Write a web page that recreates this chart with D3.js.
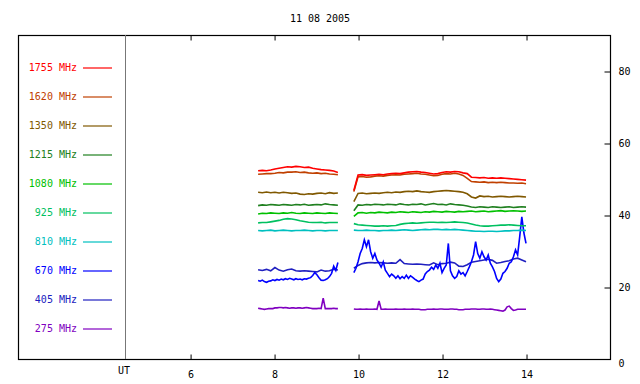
<!DOCTYPE html>
<html>
<head>
<meta charset="utf-8">
<script src="https://cdn.jsdelivr.net/npm/d3@7"></script>
<style>
  body { margin: 0; background: #fff; }
  text { font-family: "DejaVu Sans Mono", "Liberation Mono", monospace; font-size: 10px; }
</style>
</head>
<body>
<div id="svgWrapper"></div>
<script>
const width = 640;
const height = 384;

// chart data
const title = "11 08 2005";
const freqs = ["1755", "1620", "1350", "1215", "1080", "925", "810", "670", "405", "275"];
const colors = ["#ff0000", "#c04000", "#805800", "#208020", "#00c000", "#00c060", "#00c0c0", "#0000ff", "#2020c0", "#8000c0"];
const hourTicks = [6, 8, 10, 12, 14];
const valueTicks = [0, 20, 40, 60, 80];

// sample grids (UT hours)
const seg1Start = 7.62, seg2Start = 9.90;
const coarseStep = 0.1, fineStep = 0.05;

const f1755_1 = [52.3,52.4,52.3,52.5,52.8,53.0,53.2,53.4,53.3,53.5,53.4,53.2,53.3,53.0,52.8,52.6,52.5,52.4,52.2,51.8];
const f1755_2 = [46.8,51.1,51.2,51.0,51.1,51.2,51.3,51.2,51.4,51.5,51.6,51.5,51.7,51.9,52.0,52.1,51.9,51.8,51.6,51.4,51.5,51.8,52.0,51.9,52.1,52.0,51.7,51.5,50.5,50.4,50.3,50.4,50.2,50.3,50.2,50.3,50.2,50.1,50.0,49.9,49.8,49.7];
const f1620_1 = [51.3,51.4,51.5,51.5,51.6,51.8,51.7,51.9,51.9,52.0,51.8,51.9,51.7,51.6,51.7,51.5,51.6,51.4,51.3,51.2];
const f1620_2 = [46.5,50.6,50.7,50.5,50.6,50.8,50.9,50.8,51.0,51.1,51.2,51.1,51.3,51.4,51.5,51.6,51.4,51.3,51.1,50.9,51.0,51.3,51.5,51.4,51.6,51.4,51.0,50.2,49.3,49.2,49.1,49.2,49.0,49.1,49.0,49.1,49.0,48.9,48.9,48.8,48.9,48.7];
const f1350_1 = [46.3,46.2,46.4,46.2,46.3,46.1,46.3,46.2,46.0,46.1,45.8,45.7,45.9,45.8,46.0,46.1,45.9,46.2,46.0,46.1];
const f1350_2 = [43.7,46.0,46.1,45.9,46.0,46.1,46.0,46.2,46.3,46.2,46.4,46.3,46.5,46.6,46.5,46.7,46.5,46.4,46.3,46.5,46.6,46.7,46.8,46.7,46.6,46.5,46.3,45.9,45.0,44.7,45.3,45.1,45.2,45.0,45.1,45.2,45.1,45.0,45.1,45.2,45.1,45.0];
const f1215_1 = [42.6,42.8,42.7,42.9,42.8,42.7,42.9,42.8,42.7,42.9,42.8,43.0,42.7,42.8,42.9,42.8,43.1,42.9,42.8,42.7];
const f1215_2 = [41.2,42.8,42.7,42.9,42.8,43.0,42.9,42.8,43.0,42.9,42.8,43.1,42.9,42.8,43.0,42.9,43.1,42.8,43.0,43.2,42.9,43.0,42.8,43.1,42.9,42.8,42.7,42.5,42.2,42.1,42.3,42.2,42.1,42.3,42.2,42.1,42.2,42.3,42.1,42.2,42.3,42.2];
const f1080_1 = [40.3,40.5,40.4,40.6,40.5,40.4,40.6,40.5,40.7,40.5,40.4,40.6,40.5,40.4,40.6,40.5,40.4,40.6,40.5,40.4];
const f1080_2 = [39.6,40.6,40.7,40.5,40.7,40.6,40.8,40.7,40.6,40.8,40.7,40.9,40.8,40.7,40.9,40.8,40.7,40.9,40.8,41.0,40.9,40.8,41.0,40.9,40.8,41.0,40.9,41.0,41.1,40.9,41.0,41.1,40.9,41.0,41.1,41.2,41.0,41.1,41.2,41.1,41.0,41.1];
const f925_1 = [37.8,37.9,37.9,38.1,38.3,38.5,38.8,39.0,38.9,38.7,38.4,38.2,38.0,37.9,37.9,38.0,37.8,37.9,37.9,37.9];
const f925_2 = [37.6,37.3,37.2,37.1,37.0,36.9,36.9,37.0,36.9,37.0,37.1,37.4,37.6,37.7,37.8,37.7,37.8,37.9,38.0,38.0,37.9,38.0,37.9,38.0,38.1,38.0,37.9,37.8,37.5,37.2,37.0,36.9,36.9,37.0,37.1,37.2,37.2,37.3,37.2,37.1,37.0,37.0];
const f810_1 = [35.7,35.6,35.7,35.8,35.6,35.7,35.8,35.7,35.6,35.7,35.7,35.8,35.7,35.6,35.7,35.7,35.6,35.7,35.7,35.7];
const f810_2 = [35.8,35.7,35.7,35.8,35.7,35.7,35.6,35.7,35.7,35.8,35.7,35.8,35.9,35.8,35.7,35.8,35.9,36.0,35.9,36.0,36.0,35.9,36.0,35.9,36.0,35.9,35.8,35.7,35.6,35.5,35.5,35.4,35.5,35.5,35.4,35.5,35.6,35.6,35.7,35.7,35.8,35.7];
// 670 and 275 MHz are on the fine grid
const f670_1 = [21.8,21.6,21.9,21.5,21.3,21.6,21.7,22.0,21.8,22.1,21.9,22.2,22.0,22.3,22.1,22.4,22.2,22.0,22.3,22.1,22.2,22.0,22.3,22.2,22.4,22.6,23.2,24.0,23.4,22.6,21.9,21.8,22.0,22.3,22.9,23.8,25.8,24.6,26.8];
const f670_2 = [24.0,25.2,27.0,29.3,30.7,33.1,31.2,33.1,29.8,28.0,29.3,27.5,26.6,25.5,27.0,24.7,23.8,22.9,23.6,23.1,22.4,23.1,22.3,22.9,22.4,23.3,22.4,23.1,22.7,22.2,21.8,21.5,21.9,22.2,23.6,24.3,24.7,25.5,24.9,26.1,25.2,26.6,24.0,25.2,26.1,32.1,24.5,23.1,22.4,22.9,24.5,23.6,24.0,23.1,24.3,25.6,27.0,28.9,32.6,29.3,28.0,29.8,28.4,27.5,28.9,26.6,25.6,24.3,22.4,21.5,22.2,23.8,24.3,25.2,26.6,27.0,28.4,30.3,28.9,34.0,39.5,35.0,32.1];
const f405_1 = [24.8,24.6,24.9,24.5,25.4,24.7,24.4,24.8,25.0,24.5,24.4,24.5,24.4,24.3,24.2,24.7,24.4,24.5,24.9,24.7];
const f405_2 = [25.2,26.0,26.5,26.7,26.8,26.7,26.8,26.7,26.6,26.7,26.6,27.6,26.5,26.4,26.3,26.4,26.3,26.2,26.1,26.7,26.2,26.5,26.6,26.9,26.7,25.8,25.7,26.2,26.9,27.1,27.3,27.5,27.7,27.4,26.6,26.8,27.1,27.3,27.8,28.0,27.5,27.0];
const f275_1 = [14.1,14.0,13.9,13.8,13.9,14.0,14.0,14.0,14.2,14.2,14.3,14.3,14.2,14.3,14.2,14.1,14.2,14.2,14.1,14.2,14.2,14.1,14.2,14.3,14.2,14.1,14.0,14.0,14.0,14.1,14.0,16.9,14.0,14.0,14.0,14.0,14.1,14.0,14.0];
const f275_2 = [13.9,13.8,13.8,13.9,13.8,13.8,13.9,13.8,13.8,13.8,13.9,13.8,16.1,13.8,13.8,13.9,13.8,13.8,13.8,13.8,13.9,13.8,13.8,13.8,13.9,13.8,13.8,13.8,13.9,13.8,13.8,13.8,13.7,13.7,13.7,13.8,13.8,13.8,13.9,13.8,13.8,13.9,13.9,13.8,13.8,13.8,13.9,13.9,13.8,13.8,13.7,13.7,13.7,13.8,13.8,13.8,13.9,13.9,13.9,13.8,13.8,13.9,13.9,13.8,13.8,13.9,13.8,13.7,13.6,13.5,13.4,13.3,13.6,14.5,14.7,14.0,13.5,13.6,13.8,13.8,13.8,13.8,13.8];

// one entry per frequency, same order as freqs
const seriesData = [
    [f1755_1, f1755_2, coarseStep], [f1620_1, f1620_2, coarseStep], [f1350_1, f1350_2, coarseStep],
    [f1215_1, f1215_2, coarseStep], [f1080_1, f1080_2, coarseStep], [f925_1, f925_2, coarseStep],
    [f810_1, f810_2, coarseStep], [f670_1, f670_2, fineStep], [f405_1, f405_2, coarseStep],
    [f275_1, f275_2, fineStep]
];

// Create SVG element
const svg = d3.select("#svgWrapper")
    .append("svg")
    .attr("width", width)
    .attr("height", height);

svg.append("rect")
    .attr("width", width)
    .attr("height", height)
    .attr("fill", "#fff");

const box = { left: 18, top: 35, right: 610, bottom: 359, ut: 125 };

const x = d3.scaleLinear().domain([4.45, 16]).range([box.ut, box.right]);
const y = d3.scaleLinear().domain([0, 90]).range([box.bottom, box.top]);

// title
svg.append("text")
    .attr("x", 320)
    .attr("y", 22)
    .attr("text-anchor", "middle")
    .text(title);

// frame
svg.append("rect")
    .attr("x", box.left + 0.5)
    .attr("y", box.top + 0.5)
    .attr("width", box.right - box.left)
    .attr("height", box.bottom - box.top)
    .attr("fill", "none")
    .attr("stroke", "#000")
    .attr("stroke-width", 1.2);

// UT separator
svg.append("line")
    .attr("x1", box.ut + 0.5).attr("x2", box.ut + 0.5)
    .attr("y1", box.top).attr("y2", box.bottom)
    .attr("stroke", "#777")
    .attr("stroke-width", 1);

// bottom axis (ticks pointing up)
svg.append("g")
    .attr("transform", `translate(0.5,${box.bottom + 0.5})`)
    .call(d3.axisBottom(x).tickValues(hourTicks).tickSize(-5).tickPadding(11).tickFormat(d3.format("d")))
    .call(g => g.select(".domain").remove())
    .call(g => g.selectAll("text").attr("font-family", null).attr("font-size", null).attr("fill", "#000"));

// top axis (ticks pointing down)
svg.append("g")
    .attr("transform", `translate(0.5,${box.top + 0.5})`)
    .call(d3.axisTop(x).tickValues(hourTicks).tickSize(-5).tickFormat(""))
    .call(g => g.select(".domain").remove());

svg.append("text")
    .attr("x", box.ut - 1)
    .attr("y", 374)
    .attr("text-anchor", "middle")
    .text("UT");

// right axis (ticks pointing left, labels right)
const yAxis = svg.append("g")
    .attr("transform", `translate(${box.right + 0.5},0.5)`)
    .call(d3.axisRight(y).tickValues(valueTicks).tickSize(0).tickPadding(8))
    .call(g => g.select(".domain").remove())
    .call(g => g.selectAll("text").attr("font-family", null).attr("font-size", null).attr("fill", "#000"));
yAxis.selectAll(".tick").filter(d => d > 0).append("line")
    .attr("x1", -6).attr("x2", 0)
    .attr("stroke", "#000");
yAxis.selectAll(".tick").filter(d => d === 0).select("text").attr("dy", "0.7em");

// legend
const legend = svg.append("g");
freqs.forEach((f, i) => {
    const ly = 67.5 + i * 29;
    legend.append("text")
        .attr("x", 77)
        .attr("y", ly)
        .attr("dy", "0.35em")
        .attr("text-anchor", "end")
        .attr("fill", colors[i])
        .text(f + " MHz");
    legend.append("line")
        .attr("x1", 83).attr("x2", 112)
        .attr("y1", ly + 0.5).attr("y2", ly + 0.5)
        .attr("stroke", colors[i])
        .attr("stroke-width", 1.2);
});

// data lines
const line = d3.line().x(d => x(d[0])).y(d => y(d[1]));
const plot = svg.append("g");
for (let i = freqs.length - 1; i >= 0; i--) {
    const [a, b, step] = seriesData[i];
    [[a, seg1Start], [b, seg2Start]].forEach(([vals, t0]) => {
        const pts = vals.map((v, k) => [t0 + k * step, v]);
        plot.append("path")
            .attr("d", line(pts))
            .attr("fill", "none")
            .attr("stroke", colors[i])
            .attr("stroke-width", 1.6)
            .attr("stroke-linejoin", "miter");
    });
}
</script>
</body>
</html>
